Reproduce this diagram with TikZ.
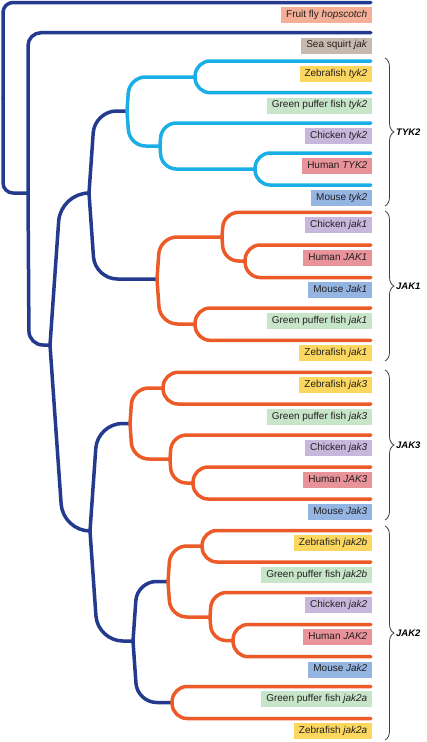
\documentclass[tikz,border=0pt]{standalone}
\usepackage{fontspec}
\setmainfont{Liberation Sans}
\usetikzlibrary{calc,decorations.pathreplacing}
\definecolor{navy}{HTML}{233A8E}
\definecolor{cyanb}{HTML}{1AAEE6}
\definecolor{orng}{HTML}{EC5B27}
\definecolor{cFly}{HTML}{F4AF96}
\definecolor{cSq}{HTML}{C8B9AE}
\definecolor{cZeb}{HTML}{FCD75F}
\definecolor{cGp}{HTML}{C7E5C8}
\definecolor{cChk}{HTML}{C8B7DD}
\definecolor{cHum}{HTML}{E8929A}
\definecolor{cMou}{HTML}{94B5E2}
\definecolor{txt}{HTML}{231F20}
% branch with automatic corner radius and slant
\newcommand\br[3]{\draw[#1] let \p1=(#2), \p2=(#3),
  \n1={abs(\y2-(\y1))}, \n2={0.07*\n1},
  \n3={min(\n1, abs(\x2-(\x1))-\n2, 12+0.12*\n1)} in
  (#2) [rounded corners=\n3] -- (\x1+\n2,\y2) -- (#3);}
% branch with explicit radius (#4) and slant (#5)
\newcommand\brx[5]{\draw[#1] let \p1=(#2), \p2=(#3) in
  (#2) [rounded corners=#4] -- (\x1+#5,\y2) -- (#3);}
\begin{document}
\begin{tikzpicture}[x=1pt,y=-1pt,
  edge/.style={line width=3.5pt,line cap=round},
  nvb/.style={edge,draw=navy}, cyb/.style={edge,draw=cyanb}, orb/.style={edge,draw=orng},
  lab/.style={anchor=north east, fill=#1, inner xsep=5pt, inner ysep=0pt,
    minimum height=16pt, text height=7pt, text depth=2.5pt,
    font=\fontsize{10}{12}\selectfont, text=txt},
  grp/.style={anchor=west, inner sep=0pt, text=black,
    font=\fontsize{9.5}{11}\selectfont\bfseries\itshape},
  brc/.style={decorate, decoration={brace, amplitude=9pt}, line width=0.8pt, draw=black!75}]
\useasboundingbox (0,0) rectangle (427,742);
% leaves and labels
\foreach \i/\y/\c/\t in {
  0/2.5/cFly/{Fruit fly \textit{hopscotch}},
  1/32.7/cSq/{Sea squirt \textit{jak}},
  2/61/cZeb/{Zebrafish \textit{tyk2}},
  3/92.7/cGp/{Green puffer fish \textit{tyk2}},
  4/123/cChk/{Chicken \textit{tyk2}},
  5/153/cHum/{Human \textit{TYK2}},
  6/185/cMou/{Mouse \textit{tyk2}},
  7/212.3/cChk/{Chicken \textit{jak1}},
  8/245/cHum/{Human \textit{JAK1}},
  9/277.5/cMou/{Mouse \textit{Jak1}},
  10/308/cGp/{Green puffer fish \textit{jak1}},
  11/340.3/cZeb/{Zebrafish \textit{jak1}},
  12/372.3/cZeb/{Zebrafish \textit{jak3}},
  13/404/cGp/{Green puffer fish \textit{jak3}},
  14/435/cChk/{Chicken \textit{jak3}},
  15/467/cHum/{Human \textit{JAK3}},
  16/499/cMou/{Mouse \textit{Jak3}},
  17/530.5/cZeb/{Zebrafish \textit{jak2b}},
  18/562/cGp/{Green puffer fish \textit{jak2b}},
  19/592.5/cChk/{Chicken \textit{jak2}},
  20/624.5/cHum/{Human \textit{JAK2}},
  21/656.7/cMou/{Mouse \textit{Jak2}},
  22/686.5/cGp/{Green puffer fish \textit{jak2a}},
  23/718.5/cZeb/{Zebrafish \textit{jak2a}}}{
  \coordinate (l\i) at (370.8,\y);
  \node[lab=\c] (t\i) at (372.5,\y+4.7) {\t};
}
% internal nodes
\coordinate (R) at (3,98);
\coordinate (A) at (28,193);
\coordinate (B) at (50,345);
\coordinate (C) at (89,193);
\coordinate (T0) at (127,111);
\coordinate (T1) at (195,77);
\coordinate (T2) at (160,146);
\coordinate (T3) at (255,169);
\coordinate (J0) at (157,279);
\coordinate (J1) at (222,237);
\coordinate (J2) at (245,261);
\coordinate (J3) at (195,324);
\coordinate (D) at (90,531);
\coordinate (K0) at (130,423.5);
\coordinate (K1) at (163,388);
\coordinate (K2) at (170,459);
\coordinate (K3) at (193,483);
\coordinate (E) at (133,641);
\coordinate (L0) at (168,581.5);
\coordinate (L1) at (202,546);
\coordinate (L2) at (210,617);
\coordinate (L3) at (233,640.6);
\coordinate (M) at (172,702.5);
% backbone (navy)
\brx{nvb}{R}{l0}{10pt}{0}
\brx{nvb}{R}{A}{10pt}{0}
\brx{nvb}{A}{l1}{13pt}{0}
\brx{nvb}{A}{B}{14pt}{1}
\br{nvb}{B}{C}
\br{nvb}{B}{D}
\br{nvb}{C}{T0}
\br{nvb}{C}{J0}
\br{nvb}{D}{K0}
\br{nvb}{D}{E}
\br{nvb}{E}{L0}
\br{nvb}{E}{M}
% TYK2 (cyan)
\br{cyb}{T0}{T1}
\br{cyb}{T0}{T2}
\br{cyb}{T1}{l2}
\br{cyb}{T1}{l3}
\br{cyb}{T2}{l4}
\br{cyb}{T2}{T3}
\br{cyb}{T3}{l5}
\br{cyb}{T3}{l6}
% JAK1
\br{orb}{J0}{J1}
\br{orb}{J0}{J3}
\br{orb}{J1}{l7}
\br{orb}{J1}{J2}
\br{orb}{J2}{l8}
\br{orb}{J2}{l9}
\br{orb}{J3}{l10}
\br{orb}{J3}{l11}
% JAK3
\br{orb}{K0}{K1}
\br{orb}{K0}{K2}
\br{orb}{K1}{l12}
\br{orb}{K1}{l13}
\br{orb}{K2}{l14}
\br{orb}{K2}{K3}
\br{orb}{K3}{l15}
\br{orb}{K3}{l16}
% JAK2
\br{orb}{L0}{L1}
\br{orb}{L0}{L2}
\br{orb}{L1}{l17}
\br{orb}{L1}{l18}
\br{orb}{L2}{l19}
\br{orb}{L2}{L3}
\br{orb}{L3}{l20}
\br{orb}{L3}{l21}
\br{orb}{M}{l22}
\br{orb}{M}{l23}
% braces and group labels
\coordinate (bT1) at (385,58);  \coordinate (bT2) at (385,206);
\coordinate (bJ1) at (385,211); \coordinate (bJ2) at (385,361);
\coordinate (bK1) at (385,370); \coordinate (bK2) at (385,520);
\coordinate (bL1) at (385,526); \coordinate (bL2) at (385,740);
\draw[brc] (bT1) -- (bT2);
\draw[brc] (bJ1) -- (bJ2);
\draw[brc] (bK1) -- (bK2);
\draw[brc] (bL1) -- (bL2);
\node[grp] (gT) at (396,132) {TYK2};
\node[grp] (gJ1) at (396,286) {JAK1};
\node[grp] (gJ3) at (396,445) {JAK3};
\node[grp] (gJ2) at (396,633) {JAK2};
\end{tikzpicture}
\end{document}
